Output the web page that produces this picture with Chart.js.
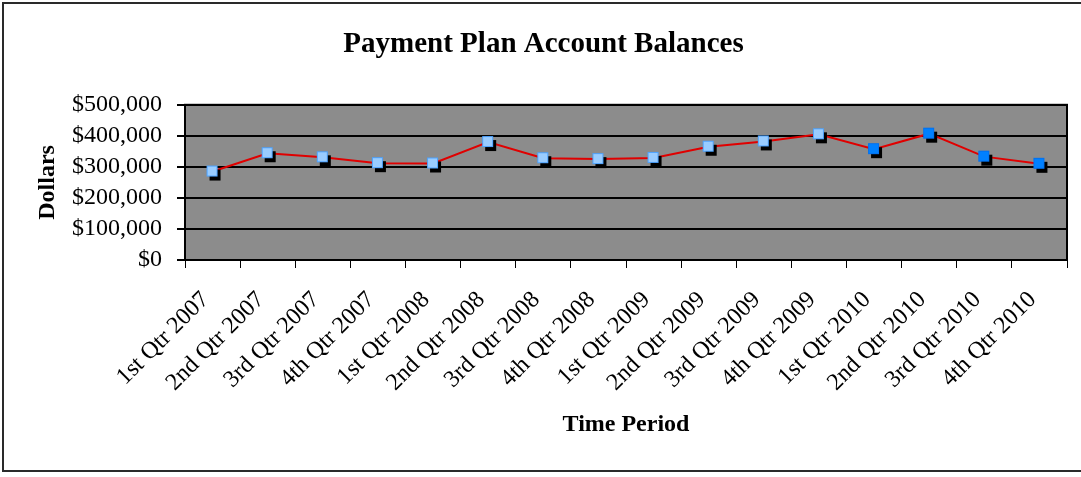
<!DOCTYPE html>
<html>
<head>
<meta charset="utf-8">
<script src="https://cdn.jsdelivr.net/npm/chart.js@4/dist/chart.umd.min.js"></script>
<style>
  body { margin: 0; background: #fff; }
  canvas { display: block; }
</style>
</head>
<body>
<canvas id="myChart" width="1081" height="477"></canvas>
<script>
// quarters on the x axis
const quarters = [
  '1st Qtr 2007', '2nd Qtr 2007', '3rd Qtr 2007', '4th Qtr 2007',
  '1st Qtr 2008', '2nd Qtr 2008', '3rd Qtr 2008', '4th Qtr 2008',
  '1st Qtr 2009', '2nd Qtr 2009', '3rd Qtr 2009', '4th Qtr 2009',
  '1st Qtr 2010', '2nd Qtr 2010', '3rd Qtr 2010', '4th Qtr 2010'
];
// account balances (dollars)
const balances = [
  285000, 344000, 331000, 312000,
  311000, 380000, 328000, 325000,
  329000, 365000, 382000, 405000,
  357000, 407000, 333000, 310000
];
const yMin = 0;
const yMax = 500000;
const yStep = 100000;

const serif = "'Liberation Serif', 'Times New Roman', serif";

// square marker with a black drop shadow, drawn into a little canvas
function makeMarker(fill, stroke) {
  const c = document.createElement('canvas');
  c.width = 22; c.height = 22;
  const g = c.getContext('2d');
  g.fillStyle = '#000';
  g.fillRect(8, 9, 11, 11);
  g.fillStyle = fill;
  g.fillRect(5, 5, 11, 11);
  g.strokeStyle = stroke;
  g.lineWidth = 1;
  g.strokeRect(5.5, 5.5, 10, 10);
  return c;
}
const lightMarker = makeMarker('#99ccff', '#4da3ff');
const darkMarker = makeMarker('#0080ff', '#0070f0');

const framePlugin = {
  id: 'frame',
  beforeDraw(chart) {
    const ctx = chart.ctx;
    const a = chart.chartArea;
    ctx.save();
    ctx.fillStyle = '#fff';
    ctx.fillRect(0, 0, chart.width, chart.height);
    ctx.strokeStyle = '#2a2a2a';
    ctx.lineWidth = 2;
    ctx.strokeRect(3, 3, 1200, 468);
    ctx.fillStyle = '#8c8c8c';
    ctx.fillRect(a.left, a.top, a.right - a.left, a.bottom - a.top);
    ctx.restore();
  },
  beforeDatasetsDraw(chart) {
    const ctx = chart.ctx;
    const a = chart.chartArea;
    ctx.save();
    ctx.strokeStyle = '#000';
    ctx.lineWidth = 2;
    ctx.strokeRect(a.left, a.top, a.right - a.left, a.bottom - a.top);
    ctx.restore();
  }
};

const ctx = document.getElementById('myChart');
const myChart = new Chart(ctx, {
  type: 'line',
  data: {
    labels: quarters,
    datasets: [{
      label: 'Balance',
      data: balances,
      borderColor: '#e00000',
      borderWidth: 2,
      tension: 0,
      pointStyle: (c) => quarters[c.dataIndex].endsWith('2010') ? darkMarker : lightMarker,
      pointRadius: 8,
      pointHoverRadius: 8
    }]
  },
  options: {
    responsive: false,
    animation: false,
    layout: { padding: { top: 0, left: 20, right: 14, bottom: 0 } },
    plugins: {
      legend: { display: false },
      tooltip: { enabled: false },
      title: {
        display: true,
        text: 'Payment Plan Account Balances',
        color: '#000',
        font: { family: serif, size: 29, weight: 'bold' },
        padding: { top: 27, bottom: 43 }
      }
    },
    scales: {
      x: {
        offset: true,
        afterFit: (s) => { s.height = 217; },
        grid: {
          offset: true,
          drawOnChartArea: false,
          drawTicks: true,
          tickLength: 8,
          color: '#000',
          lineWidth: 1
        },
        border: { display: true, color: '#000', width: 2 },
        ticks: {
          autoSkip: false,
          minRotation: 45,
          maxRotation: 45,
          labelOffset: -7,
          color: '#000',
          padding: 18,
          font: { family: serif, size: 24 }
        },
        title: {
          display: true,
          text: 'Time Period',
          color: '#000',
          font: { family: serif, size: 24, weight: 'bold' },
          padding: { top: 0, bottom: 38 }
        }
      },
      y: {
        min: yMin,
        max: yMax,
        afterFit: (s) => { s.width = 165; },
        grid: {
          color: '#000',
          lineWidth: 2,
          tickLength: 8
        },
        border: { display: true, color: '#000', width: 2 },
        ticks: {
          stepSize: yStep,
          autoSkip: false,
          maxTicksLimit: 11,
          color: '#000',
          padding: 15,
          font: { family: serif, size: 24, lineHeight: 1 },
          callback: (v) => '$' + v.toLocaleString('en-US')
        },
        title: {
          display: true,
          text: 'Dollars',
          color: '#000',
          font: { family: serif, size: 24, weight: 'bold' },
          padding: { top: 13, bottom: 0 }
        }
      }
    }
  },
  plugins: [framePlugin]
});
</script>
</body>
</html>
